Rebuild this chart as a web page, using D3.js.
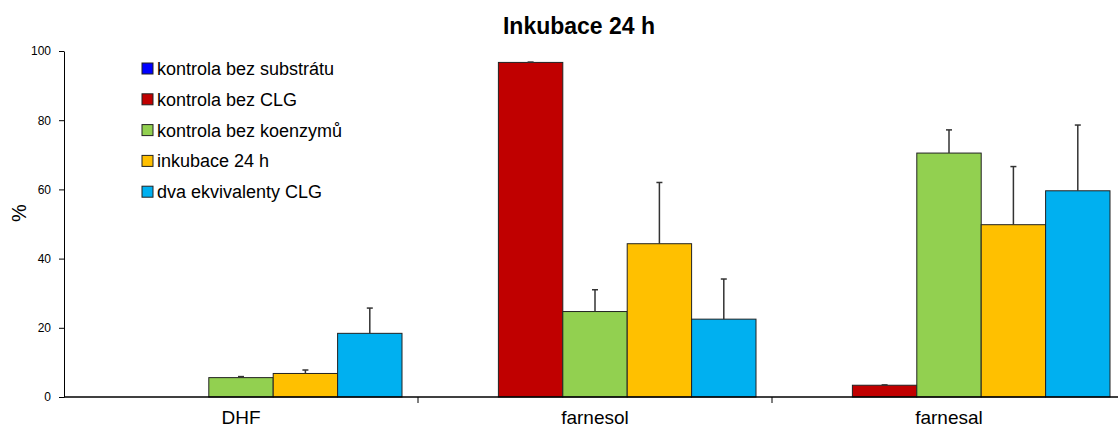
<!DOCTYPE html>
<html>
<head>
<meta charset="utf-8">
<script src="https://cdn.jsdelivr.net/npm/d3@7"></script>
<style>
  body { margin: 0; background: #fff; }
  svg text { font-family: "Liberation Sans", Arial, sans-serif; fill: #000; }
</style>
</head>
<body>
<svg id="chart" width="1118" height="428"></svg>
<script>
// data
var categories = ["DHF", "farnesol", "farnesal"];
var seriesNames = ["kontrola bez substrátu", "kontrola bez CLG", "kontrola bez koenzymů", "inkubace 24 h", "dva ekvivalenty CLG"];
var seriesColors = ["#0000ff", "#c00000", "#92d050", "#ffc000", "#00b0f0"];
var substrateFree = [0, 0, 0];
var noClg = [0, 96.7, 3.4];
var noCoenzymes = [5.6, 24.7, 70.5];
var incubation24 = [6.8, 44.3, 49.8];
var twoEquivClg = [18.4, 22.5, 59.6];
var errSubstrateFree = [0, 0, 0];
var errNoClg = [0, 0.1, 0.1];
var errNoCoenzymes = [0.3, 6.3, 6.7];
var errIncubation24 = [1.0, 17.7, 16.8];
var errTwoEquivClg = [7.3, 11.6, 19.0];
var yTicks = [0, 20, 40, 60, 80, 100];

var values = [substrateFree, noClg, noCoenzymes, incubation24, twoEquivClg];
var errors = [errSubstrateFree, errNoClg, errNoCoenzymes, errIncubation24, errTwoEquivClg];

var svg = d3.select("#chart");
var plotLeft = 64, plotTop = 51, plotBottom = 397;

var x = d3.scaleBand().domain(categories).range([plotLeft, plotLeft + 3 * 354]).padding(0);
var inner = d3.scaleBand().domain(d3.range(seriesNames.length)).range([0, 322]);
var y = d3.scaleLinear().domain([0, 100]).range([plotBottom, plotTop]);

function barX(ci, si) {
    return x(categories[ci]) + (x.bandwidth() - 322) / 2 + inner(si);
}

// bars + upper error whiskers
seriesNames.forEach(function(name, s) {
    var pts = values[s].map(function(v, i) { return {v: v, e: errors[s][i], i: i}; })
        .filter(function(d) { return d.v > 0; });
    var g = svg.append("g");
    g.selectAll("rect")
        .data(pts)
        .enter().append("rect")
            .attr("x", function(d) { return barX(d.i, s); })
            .attr("y", function(d) { return y(d.v); })
            .attr("width", inner.bandwidth())
            .attr("height", function(d) { return y(0) - y(d.v); })
            .attr("fill", seriesColors[s])
            .attr("stroke", "#222")
            .attr("stroke-width", 1);

    var cx = function(d) { return barX(d.i, s) + inner.bandwidth() / 2; };
    g.selectAll(".whisker")
        .data(pts)
        .enter().append("line")
            .attr("x1", cx).attr("x2", cx)
            .attr("y1", function(d) { return y(d.v); })
            .attr("y2", function(d) { return y(d.v + d.e); })
            .attr("stroke", "#333").attr("stroke-width", 1.5);
    g.selectAll(".cap")
        .data(pts)
        .enter().append("line")
            .attr("x1", function(d) { return cx(d) - 3; })
            .attr("x2", function(d) { return cx(d) + 3; })
            .attr("y1", function(d) { return y(d.v + d.e); })
            .attr("y2", function(d) { return y(d.v + d.e); })
            .attr("stroke", "#333").attr("stroke-width", 1.5);
});

// y axis
var yAxis = d3.axisLeft(y).tickValues(yTicks).tickSize(5).tickSizeOuter(0);
var yg = svg.append("g").attr("transform", "translate(" + plotLeft + ",0)").call(yAxis);
yg.selectAll("text").attr("font-size", 12).attr("font-family", null).attr("fill", "#000").attr("dx", "-5");
yg.selectAll("line").attr("stroke", "#000");
yg.select(".domain").attr("stroke", "#000");

// x axis
var xg = svg.append("g").attr("transform", "translate(0," + plotBottom + ")");
xg.append("line").attr("x1", plotLeft).attr("x2", 1118).attr("y1", 0).attr("y2", 0)
    .attr("stroke", "#000").attr("stroke-width", 1.5);
xg.selectAll(".sep")
    .data(categories.slice(1))
    .enter().append("line")
        .attr("x1", function(d) { return x(d); })
        .attr("x2", function(d) { return x(d); })
        .attr("y1", 0).attr("y2", 6)
        .attr("stroke", "#000");
xg.selectAll(".cat")
    .data(categories)
    .enter().append("text")
        .attr("x", function(d) { return x(d) + x.bandwidth() / 2; })
        .attr("y", 27)
        .attr("text-anchor", "middle")
        .attr("font-size", 19)
        .text(function(d) { return d; });

// y label
svg.append("text")
    .attr("transform", "translate(26,213) rotate(-90)")
    .attr("text-anchor", "middle")
    .attr("font-size", 20)
    .text("%");

// title
svg.append("text")
    .attr("x", 579).attr("y", 34)
    .attr("text-anchor", "middle")
    .attr("font-size", 23)
    .attr("font-weight", "bold")
    .text("Inkubace 24 h");

// legend
var legend = svg.append("g").attr("transform", "translate(142,69)");
var items = legend.selectAll("g")
    .data(seriesNames)
    .enter().append("g")
        .attr("transform", function(d, i) { return "translate(0," + (i * 30.8) + ")"; });
items.append("rect")
    .attr("x", 0).attr("y", -6)
    .attr("width", 11).attr("height", 11)
    .attr("fill", function(d, i) { return seriesColors[i]; })
    .attr("stroke", "#222");
items.append("text")
    .attr("x", 15).attr("y", 6)
    .attr("font-size", 18)
    .text(function(d) { return d; });
</script>
</body>
</html>
